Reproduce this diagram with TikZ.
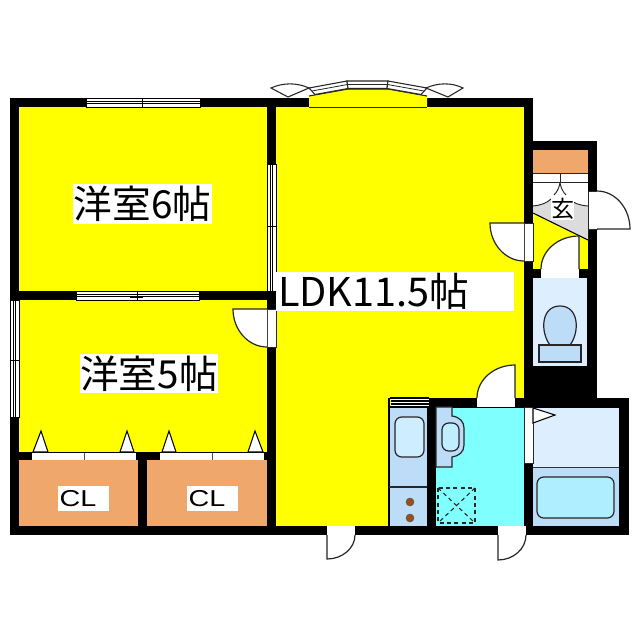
\documentclass[tikz,border=0pt]{standalone}
\usepackage{graphicx}
\usepackage{fontspec}
\setmainfont{Liberation Sans}
\newfontfamily\cjk{Noto Sans CJK JP}
\usetikzlibrary{calc}
\definecolor{roomyellow}{HTML}{FFFF00}
\definecolor{closet}{HTML}{EFA76B}
\definecolor{washcyan}{HTML}{80FFFF}
\definecolor{pale}{HTML}{DCEEFF}
\definecolor{midblue}{HTML}{BCDCF8}
\definecolor{tubblue}{HTML}{AEEEFF}
\definecolor{hallgray}{HTML}{DCDCDC}
\definecolor{burner}{HTML}{9A4F1A}
\tikzset{
  wall/.style={fill=black,draw=none},
  fixture/.style={draw=black!85,line width=0.9pt},
  roomlabel/.style={fill=white,inner sep=0pt,font=\cjk\fontsize{29}{29}\selectfont,text=black,anchor=center},
  smalllabel/.style={fill=white,inner sep=0pt,font=\fontsize{17.25}{17.25}\selectfont,text=black},
  doorface/.style={draw=black!85,line width=0.9pt},
  wingpane/.style={fill=white,draw=black!85,line width=0.8pt},
  flagmark/.style={fill=white,draw=black,line width=0.8pt}
}
% door: hinge, leaf end, arc end, arc corner
\newcommand{\swingdoor}[8]{%
  \fill[white] (#1,#2) -- (#3,#4) .. controls ($(#3,#4)!.55!(#7,#8)$) and ($(#5,#6)!.55!(#7,#8)$) .. (#5,#6) -- cycle;
  \draw[doorface] (#1,#2) -- (#3,#4) .. controls ($(#3,#4)!.55!(#7,#8)$) and ($(#5,#6)!.55!(#7,#8)$) .. (#5,#6);
}
% horizontal window in a wall
\newcommand{\hwindow}[4]{%
  \fill[white] (#1,#3) rectangle (#2,#3+9);
  \draw[black,line width=0.6pt] (#1,#3) rectangle (#2,#3+9);
  \draw[black,line width=0.6pt] (#1,#3+3.2) -- (#2,#3+3.2) (#1,#3+5.8) -- (#2,#3+5.8);
  \draw[black,line width=0.6pt] (#4,#3) -- (#4,#3+9);
}
\newcommand{\vwindow}[4]{%
  \fill[white] (#3,#1) rectangle (#3+9,#2);
  \draw[black,line width=0.6pt] (#3,#1) rectangle (#3+9,#2);
  \draw[black,line width=0.6pt] (#3+3.2,#1) -- (#3+3.2,#2) (#3+5.8,#1) -- (#3+5.8,#2);
  \draw[black,line width=0.6pt] (#3,#4) -- (#3+9,#4);
}
\begin{document}
\begin{tikzpicture}[x=0.75pt,y=-0.75pt]
\useasboundingbox (0,0) rectangle (640,640);
\fill[white] (0,0) rectangle (640,640);
% rooms
\fill[roomyellow] (19,107) rectangle (267,291);
\fill[roomyellow] (19,300) rectangle (267,452);
\fill[roomyellow] (276,107) rectangle (524,526);
\fill[closet] (19,460) rectangle (138,526);
\fill[closet] (147,460) rectangle (267,526);
\fill[closet] (533,150) rectangle (588,173);
\fill[white] (533,173) rectangle (588,206);
\fill[roomyellow] (533,206) rectangle (588,269);
\fill[washcyan] (436,407) rectangle (524,526);
\fill[pale] (533,407) rectangle (619,467);
\fill[midblue] (533,467) rectangle (619,526);
\fill[pale] (533,278) rectangle (587,366);
\fill[midblue] (389,407) rectangle (427,526);
% walls
\fill[wall] (10,98) rectangle (533,107);
\fill[wall] (10,98) rectangle (19,535);
\fill[wall] (10,526) rectangle (629,535);
\fill[wall] (267,98) rectangle (276,535);
\fill[wall] (10,291) rectangle (276,300);
\fill[wall] (10,452) rectangle (276,460);
\fill[wall] (138,452) rectangle (147,535);
\fill[wall] (524,98) rectangle (533,535);
\fill[wall] (524,141) rectangle (597,150);
\fill[wall] (588,141) rectangle (597,269);
\fill[wall] (524,269) rectangle (597,278);
\fill[wall] (587,269) rectangle (597,398);
\fill[wall] (533,366) rectangle (597,398);
\fill[wall] (427,398) rectangle (629,407.5);
\fill[wall] (619,398) rectangle (629,535);
\fill[wall] (427,398) rectangle (436,535);
% windows
\hwindow{86}{200}{98}{142}
\hwindow{76}{199}{291}{137}
\draw[black,line width=0.6pt] (130,294.5) -- (143,294.5) (130,297) -- (143,297);
\vwindow{164}{291}{267}{226}
\vwindow{300}{417}{10}{360}
% bay window
\fill[white] (309,98) rectangle (427,107);
\fill[roomyellow] (309,107) -- (309,96) -- (348,89) -- (388,89) -- (427,96) -- (427,107) -- cycle;
\draw[black!85,line width=0.7pt] (309,107) -- (427,107);
\draw[black!85,line width=0.8pt] (309,96) -- (348,89) -- (388,89) -- (427,96);
\draw[wingpane] (309,88) -- (347,81) -- (348,88.5) -- (315,94.5) -- cycle;
\draw[wingpane] (347,81) -- (388,81) -- (387,88.5) -- (348,88.5) -- cycle;
\draw[wingpane] (388,81) -- (427,88) -- (421,94.5) -- (387,88.5) -- cycle;
\draw[black!85,line width=0.6pt] (312,91) -- (347.5,84.5) -- (387.5,84.5) -- (424,91);
\draw[wingpane] (271,88) .. controls (283,82.5) and (297,82.5) .. (309,88) -- (288,97) -- cycle;
\draw[wingpane] (426,88) .. controls (438,82.5) and (452,82.5) .. (463,88) -- (448,97) -- cycle;
% closet doors
\foreach \xa/\xb/\xc in {32/84/136,160/212/264}{
  \fill[white] (\xa,452) rectangle (\xc,460);
  \draw[black!70,line width=0.6pt] (\xb,452) -- (\xb,460);
  \draw[black,line width=0.5pt] (\xa,452) -- (\xc,452);
}
\foreach \ax/\ap/\bp in {41/33/48,127/120/134,169/162/176,255/248/263}{
  \draw[flagmark] (\ap,452) -- (\ax,431) -- (\bp,452) -- cycle;
}
% entry hall
\fill[hallgray] (533,206) .. controls (540,205.5) and (547,203) .. (551,199) -- (569,199) .. controls (573,203) and (580,205.5) .. (588,206) -- (588,240) -- (533,213) -- cycle;
\draw[black!85,line width=0.7pt] (533,173) -- (588,173) (533,182) -- (588,182);
\draw[black!85,line width=0.7pt] (560,173) -- (560,183);
\draw[black!85,line width=0.7pt] (560,183) .. controls (559,188) and (557,192) .. (554,195);
\draw[black!85,line width=0.7pt] (560,183) .. controls (561,188) and (563,192) .. (566,195);
\draw[black!85,line width=0.7pt] (533,206) .. controls (540,205.5) and (547,203) .. (551,199);
\draw[black!85,line width=0.7pt] (569,199) .. controls (573,203) and (580,205.5) .. (588,206);
\draw[black,line width=0.8pt] (533,213) -- (588,240);
% door openings
\fill[white] (524,223) rectangle (533,261);
\draw[black!85,line width=0.6pt] (524,223) rectangle (533,261);
\fill[white] (267,309) rectangle (276,347);
\draw[black!85,line width=0.6pt] (267,309) rectangle (276,347);
\fill[white] (477,398) rectangle (515,407);
\fill[white] (541,269) rectangle (579,278);
\fill[white] (588,191) rectangle (597,229);
\draw[black!85,line width=0.6pt] (588,191) rectangle (597,229);
\fill[white] (327,526) rectangle (355,535);
\fill[white] (498,526) rectangle (526,535);
\fill[white] (524,407) rectangle (533,463);
\draw[black!85,line width=0.6pt] (524,407) rectangle (533,463);
% door leaves
\swingdoor{524}{223}{490}{223}{524}{261}{490}{261}
\swingdoor{267}{309}{233}{309}{267}{347}{233}{347}
\swingdoor{515}{398}{515}{365}{477}{398}{477}{365}
\swingdoor{579}{269}{579}{236}{541}{269}{541}{236}
\swingdoor{597}{229}{630}{229}{597}{191}{630}{191}
\swingdoor{327}{535}{327}{559}{355}{535}{355}{559}
\swingdoor{498}{535}{498}{560}{526}{535}{526}{560}
% bath door flag
\draw[flagmark] (533,408) -- (555,415) -- (533,423) -- cycle;
% bath
\draw[black!80,line width=0.7pt] (533,467) -- (619,467);
\draw[fixture,fill=tubblue,rounded corners=5pt] (537,477) rectangle (614,518);
% toilet
\draw[fixture,fill=midblue] (550,345) .. controls (540,332) and (541,306) .. (560,306) .. controls (579,306) and (580,332) .. (570,345) -- cycle;
\draw[fixture,fill=midblue] (539,345) rectangle (581,362);
% kitchen
\fill[white] (391,399) rectangle (429,407);
\draw[black,line width=0.8pt] (389.5,398) -- (429,398) (391,401) -- (429,401) (391,404) -- (429,404) (389.5,407) -- (429,407);
\draw[black,line width=0.8pt] (389,398) -- (389,526);
\draw[fixture,fill=pale!70!tubblue,rounded corners=5pt] (395,417) rectangle (424,457);
\draw[black!85,line width=0.8pt] (389,487) -- (427,487);
\fill[burner,draw=black!70,line width=0.3pt] (410,502) circle[radius=4] (410,518) circle[radius=4];
% wash room
\draw[fixture,fill=midblue] (436,407) -- (452,407) -- (452,416) .. controls (460,417) and (464,422) .. (464,428) -- (464,445) .. controls (464,452) and (459,456) .. (452,457) -- (452,467) -- (436,467) -- cycle;
\draw[fixture,fill=tubblue!60!pale,rounded corners=5pt] (442,423) rectangle (459,451);
\draw[black!85,line width=0.8pt,dash pattern=on 3pt off 2.5pt] (438,488) rectangle (475,523);
\draw[black!85,line width=0.8pt,dash pattern=on 3pt off 2.5pt] (438,488) -- (475,523) (475,488) -- (438,523);
% labels
\node[roomlabel,minimum width=104.25pt,minimum height=30pt] (six) at (142.5,204) {洋室6帖};
\node[roomlabel,minimum width=103.5pt,minimum height=29.25pt] (five) at (149,373.5) {洋室5帖};
\node[roomlabel,minimum width=178.5pt,minimum height=29.25pt,text width=175.5pt,align=left] (ldk) at (395,291.5) {\fontsize{29.75}{29.75}\selectfont LDK11.5帖};
\node[smalllabel,minimum width=38.25pt,minimum height=18.75pt,text width=36pt,align=left] (clone) at (83.5,498.5) {\scalebox{1.25}[1]{CL}};
\node[smalllabel,minimum width=38.25pt,minimum height=18.75pt,text width=36pt,align=left] (cltwo) at (212.5,498.5) {\scalebox{1.25}[1]{CL}};
\node[fill=white,inner sep=0pt,minimum width=17.25pt,minimum height=17.25pt,font=\cjk\fontsize{17.25}{17.25}\selectfont] (hall) at (562.5,208.5) {玄};
\end{tikzpicture}
\end{document}
